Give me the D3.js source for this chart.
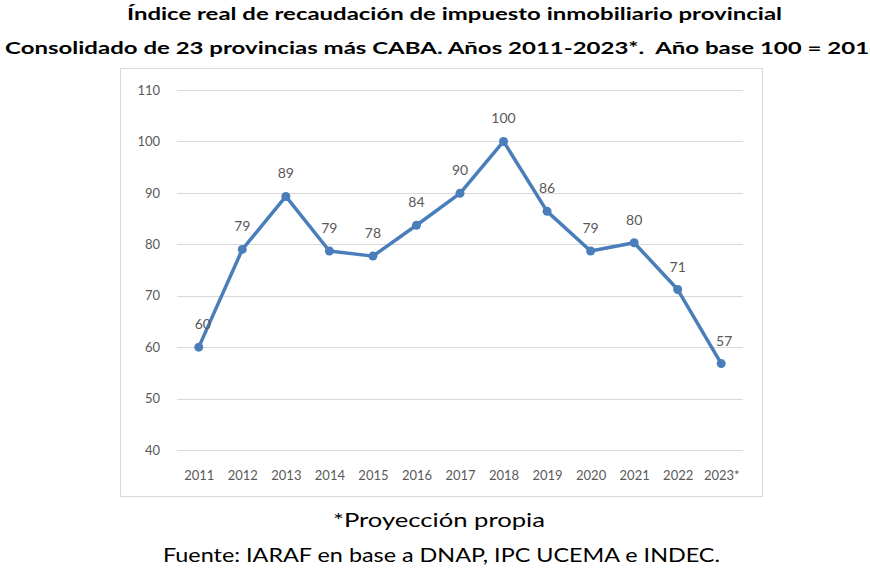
<!DOCTYPE html>
<html><head><meta charset="utf-8">
<script src="https://cdn.jsdelivr.net/npm/d3@7"></script>
<style>
body{margin:0;background:#fff;}
svg{display:block;}
text{white-space:pre;}
</style></head>
<body>
<svg id="chart" width="870" height="580"></svg>
<script>
const years = ["2011","2012","2013","2014","2015","2016","2017","2018","2019","2020","2021","2022","2023*"];
const values = [60.0, 79.0, 89.3, 78.7, 77.7, 83.7, 89.9, 100, 86.4, 78.7, 80.3, 71.2, 56.8];
const labels = ["60","79","89","79","78","84","90","100","86","79","80","71","57"];
const yTicks = [40,50,60,70,80,90,100,110];

const svg = d3.select("#chart");
const font = "Lato, 'Open Sans', sans-serif";

// Titles
svg.append("text").attr("x",127).attr("y",20).attr("font-family",font).attr("font-weight","bold")
  .attr("font-size",17.5).attr("fill","#000").attr("textLength",655).attr("lengthAdjust","spacingAndGlyphs")
  .text("Índice real de recaudación de impuesto inmobiliario provincial");
svg.append("text").attr("x",5).attr("y",54).attr("font-family",font).attr("font-weight","bold")
  .attr("font-size",17.5).attr("fill","#000").attr("textLength",878).attr("lengthAdjust","spacingAndGlyphs")
  .text("Consolidado de 23 provincias más CABA. Años 2011-2023*.  Año base 100 = 2018");

// Chart frame
svg.append("rect").attr("x",120.5).attr("y",68.5).attr("width",642).attr("height",428)
  .attr("fill","#fff").attr("stroke","#d9d9d9").attr("stroke-width",1);

const x = d3.scalePoint().domain(years).range([177,743]).padding(0.5);
const y = d3.scaleLinear().domain([40,110]).range([450,90]);

// gridlines
svg.append("g").selectAll("line").data(yTicks).join("line")
  .attr("x1",177).attr("x2",743).attr("y1",d=>Math.round(y(d))+0.5).attr("y2",d=>Math.round(y(d))+0.5)
  .attr("stroke","#d9d9d9").attr("stroke-width",1);

// y axis
const yAxis = d3.axisLeft(y).tickValues(yTicks).tickSize(0).tickPadding(17);
const gy = svg.append("g").attr("transform","translate(177,0)").call(yAxis);
gy.select(".domain").remove();
gy.selectAll("text").attr("font-family",font).attr("font-size",13).attr("fill","#595959");

// x axis
const xAxis = d3.axisBottom(x).tickSize(0).tickPadding(9);
const gx = svg.append("g").attr("transform","translate(0,462)").call(xAxis);
gx.select(".domain").remove();
gx.selectAll("text").attr("font-family",font).attr("font-size",13).attr("fill","#595959");

const color = "#4A7EBB";
const line = d3.line().x((d,i)=>x(years[i])).y(d=>y(d));
svg.append("path").datum(values).attr("d",line).attr("fill","none")
  .attr("stroke",color).attr("stroke-width",3.5).attr("stroke-linejoin","round");
svg.append("g").selectAll("circle").data(values).join("circle")
  .attr("cx",(d,i)=>x(years[i])).attr("cy",d=>y(d)).attr("r",4.5).attr("fill",color);

// data labels
svg.append("g").selectAll("text").data(values).join("text")
  .attr("x",(d,i)=>x(years[i]) + (i===12?3:(i===0?4:0))).attr("y",d=>y(d)-18)
  .attr("text-anchor","middle").attr("font-family",font).attr("font-size",14).attr("fill","#595959")
  .text((d,i)=>labels[i]);

// footer
svg.append("text").attr("x",333).attr("y",527).attr("font-family",font).attr("font-size",19)
  .attr("fill","#000").attr("textLength",212).attr("lengthAdjust","spacingAndGlyphs")
  .text("*Proyección propia");
svg.append("text").attr("x",163).attr("y",562).attr("font-family",font).attr("font-size",19)
  .attr("fill","#000").attr("textLength",557).attr("lengthAdjust","spacingAndGlyphs")
  .text("Fuente: IARAF en base a DNAP, IPC UCEMA e INDEC.");
</script>
</body></html>
